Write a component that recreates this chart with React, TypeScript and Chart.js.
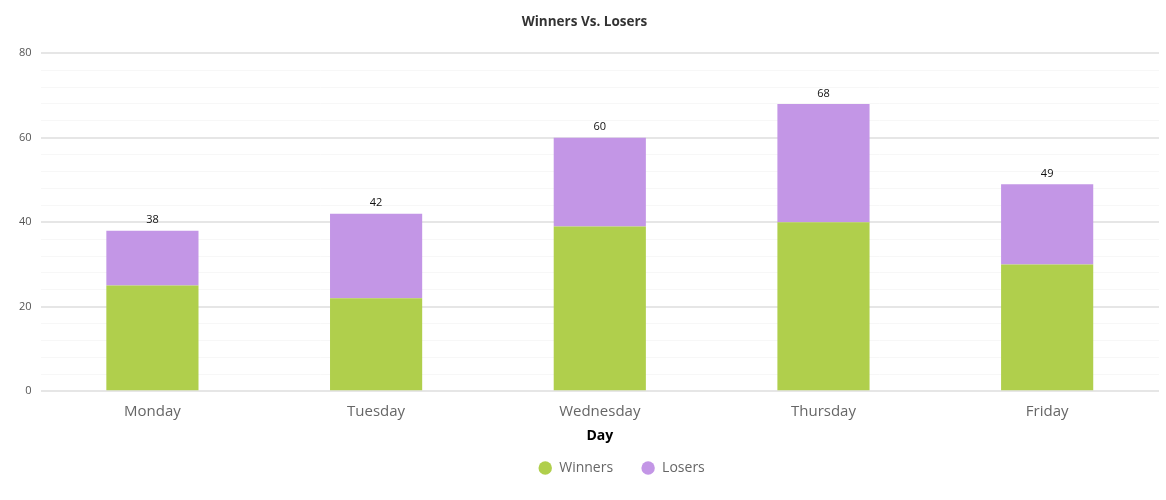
import React, { useEffect, useRef } from "react";
import { Chart, registerables } from "chart.js";

Chart.register(...registerables);

const days = ["Monday", "Tuesday", "Wednesday", "Thursday", "Friday"];
const winners = [25, 22, 39, 40, 30];
const losers = [13, 20, 21, 28, 19];
const yMax = 80;

const totalsPlugin = {
  id: "totals",
  afterDatasetsDraw(chart: any) {
    const { ctx } = chart;
    const meta = chart.getDatasetMeta(chart.data.datasets.length - 1);
    ctx.save();
    ctx.font = "11px 'Open Sans'";
    ctx.fillStyle = "#111";
    ctx.textAlign = "center";
    ctx.textBaseline = "bottom";
    meta.data.forEach((bar: any, i: number) => {
      const total = winners[i] + losers[i];
      ctx.fillText(String(total), bar.x, bar.y - 5);
    });
    ctx.restore();
  },
};

const legendShift = {
  id: "legendShift",
  afterLayout(chart: any) {
    if (chart.legend) {
      chart.legend.top -= 15;
      chart.legend.bottom -= 15;
      chart.legend.left += 37;
      chart.legend.right += 37;
    }
  },
};

export default function App() {
  const ref = useRef<HTMLCanvasElement>(null);
  useEffect(() => {
    document.body.style.margin = "0";
    const chart = new Chart(ref.current!, {
      type: "bar",
      data: {
        labels: days,
        datasets: [
          {
            label: "Winners",
            data: winners,
            backgroundColor: "rgb(176,207,76)",
            borderWidth: 0,
            barPercentage: 0.412,
            categoryPercentage: 1,
          },
          {
            label: "Losers",
            data: losers,
            backgroundColor: "rgb(195,150,230)",
            borderWidth: 0,
            barPercentage: 0.412,
            categoryPercentage: 1,
          },
        ],
      },
      options: {
        animation: false,
        responsive: true,
        maintainAspectRatio: false,
        layout: { padding: { left: 10, right: 7, top: 0, bottom: 0 } },
        plugins: {
          title: {
            display: true,
            text: "Winners Vs. Losers",
            font: { family: "'Open Sans'", size: 13.5, weight: "bold" },
            color: "#333",
            padding: { top: 14, bottom: 23 },
          },
          legend: {
            position: "bottom",
            labels: {
              usePointStyle: true,
              pointStyle: "circle",
              boxWidth: 14,
              boxHeight: 9.5,
              padding: 28,
              font: { family: "'Open Sans'", size: 14 },
              color: "#666",
            },
          },
          tooltip: { enabled: false },
        },
        scales: {
          x: {
            stacked: true,
            grid: { display: false },
            border: { display: false },
            ticks: {
              font: { family: "'Open Sans'", size: 15 },
              color: "#666",
              padding: 4,
            },
            title: {
              display: true,
              text: "Day",
              font: { family: "'Open Sans'", size: 14, weight: "bold" },
              color: "#000",
              padding: { top: 2, bottom: 4 },
            },
          },
          y: {
            stacked: true,
            min: 0,
            max: yMax,
            border: { display: false },
            ticks: {
              stepSize: 4,
              autoSkip: false,
              font: { family: "'Open Sans'", size: 11 },
              color: "#555",
              padding: 9,
              callback: (v: any) => (Number(v) % 20 === 0 ? String(v) : ""),
            },
            grid: {
              drawTicks: false,
              color: (c: any) =>
                c.tick && c.tick.value % 20 === 0 ? "#e6e6e6" : "#f7f7f7",
              lineWidth: (c: any) => (c.tick && c.tick.value % 20 === 0 ? 2 : 1),
            },
          },
        },
      },
      plugins: [totalsPlugin, legendShift],
    });
    return () => chart.destroy();
  }, []);
  return (
    <div style={{ width: 1166, height: 500, position: "relative" }}>
      <canvas ref={ref} />
    </div>
  );
}
